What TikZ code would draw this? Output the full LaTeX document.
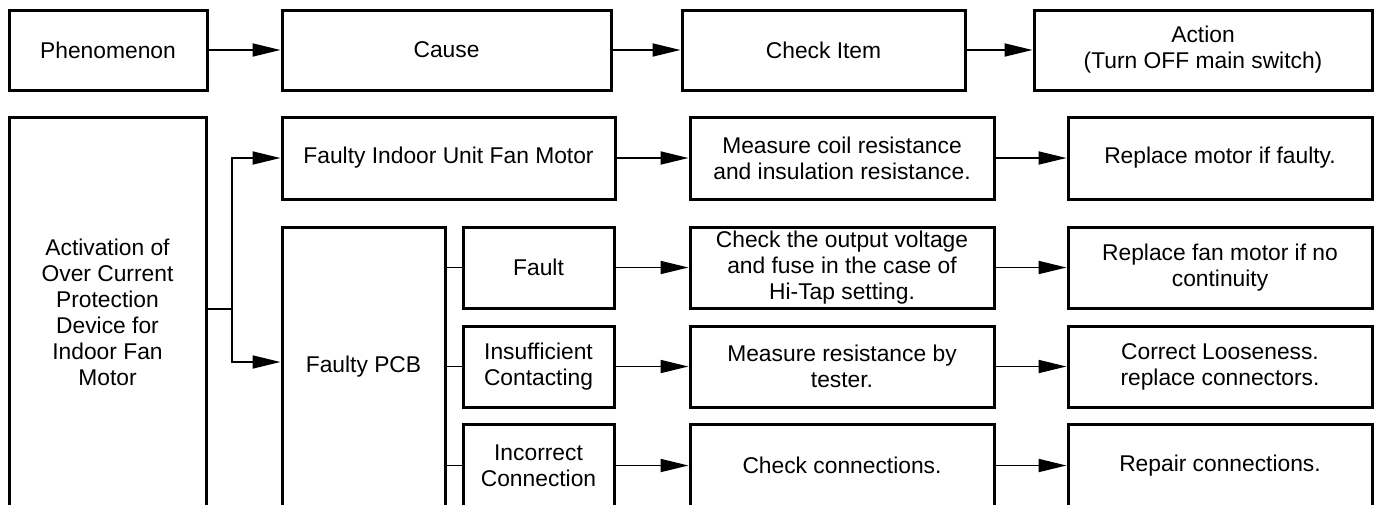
\documentclass[tikz,border=0pt]{standalone}
\usepackage{fontspec}
\setmainfont{Liberation Sans}
\usetikzlibrary{arrows.meta, positioning}

\begin{document}
\begin{tikzpicture}[x=0.5pt, y=-0.5pt,
    block/.style={rectangle, draw, line width=1.5pt, align=center, inner sep=0pt, font=\fontsize{11.4}{13}\selectfont},
    wide/.style={block, minimum width=152pt},
    arrow/.style={-{Triangle[length=14pt, width=6.5pt]}, line width=0.9pt},
    link/.style={line width=0.9pt}
]
    \useasboundingbox (0,0) rectangle (1380,504);
    \clip (0,0) rectangle (1380,504);

    % Header row
    \node[block, minimum width=99pt, minimum height=40pt] (phen) at (108,50) {Phenomenon};
    \node[block, minimum width=164.5pt, minimum height=40pt] (cause) at (446.5,50) {Cause};
    \node[block, minimum width=141.5pt, minimum height=40pt] (check) at (823.5,50) {Check Item};
    \node[block, minimum width=169pt, minimum height=40pt] (action) at (1203,50) {Action\\(Turn OFF main switch)};

    % Phenomenon
    \node[block, minimum width=98.5pt, minimum height=195pt] (act) at (107.5,312) {Activation of\\Over Current\\Protection\\Device for\\Indoor Fan\\Motor};

    % Causes
    \node[block, minimum width=166.5pt, minimum height=41pt] (fim) at (448.5,158) {Faulty Indoor Unit Fan Motor};
    \node[block, minimum width=81.5pt, minimum height=140pt] (pcb) at (363.5,367) {Faulty PCB};
    \node[block, minimum width=75.5pt, minimum height=40.5pt] (fault) at (538.5,267.5) {Fault};
    \node[block, minimum width=75.5pt, minimum height=40.5pt] (insuf) at (538.5,366.5) {Insufficient\\Contacting};
    \node[block, minimum width=75.5pt, minimum height=41.5pt] (incorr) at (538.5,465.5) {Incorrect\\Connection};

    % Check items
    \node[wide, minimum height=41pt] (coil) at (842,158) {Measure coil resistance\\and insulation resistance.};
    \node[wide, minimum height=40.5pt] (volt) at (842,267.5) {Check the output voltage\\and fuse in the case of\\Hi-Tap setting.};
    \node[wide, minimum height=40.5pt] (tester) at (842,366.5) {Measure resistance by\\tester.};
    \node[wide, minimum height=41.5pt] (conn) at (842,465.5) {Check connections.};

    % Actions
    \node[wide, minimum height=41pt] (motor) at (1220,158) {Replace motor if faulty.};
    \node[wide, minimum height=40.5pt] (fan) at (1220,267.5) {Replace fan motor if no\\continuity};
    \node[wide, minimum height=40.5pt] (loose) at (1220,366.5) {Correct Looseness.\\replace connectors.};
    \node[wide, minimum height=41.5pt] (repair) at (1220,465.5) {Repair connections.};

    % Header arrows
    \draw[arrow] (phen) -- (cause);
    \draw[arrow] (cause) -- (check);
    \draw[arrow] (check) -- (action);

    % Branch to causes
    \coordinate (split) at (232,309);
    \draw[link] (act.east |- split) -- (split);
    \draw[arrow] (split) |- (fim.west);
    \draw[arrow] (split) |- ([yshift=2.5pt]pcb.west);

    % PCB sub-causes
    \foreach \sub in {fault, insuf, incorr}
        \draw[link] (pcb.east |- \sub.west) -- (\sub.west);

    % Rows
    \draw[arrow] (fim) -- (coil);
    \draw[arrow] (coil) -- (motor);
    \draw[arrow] (fault) -- (volt);
    \draw[arrow] (volt) -- (fan);
    \draw[arrow] (insuf) -- (tester);
    \draw[arrow] (tester) -- (loose);
    \draw[arrow] (incorr) -- (conn);
    \draw[arrow] (conn) -- (repair);
\end{tikzpicture}
\end{document}
